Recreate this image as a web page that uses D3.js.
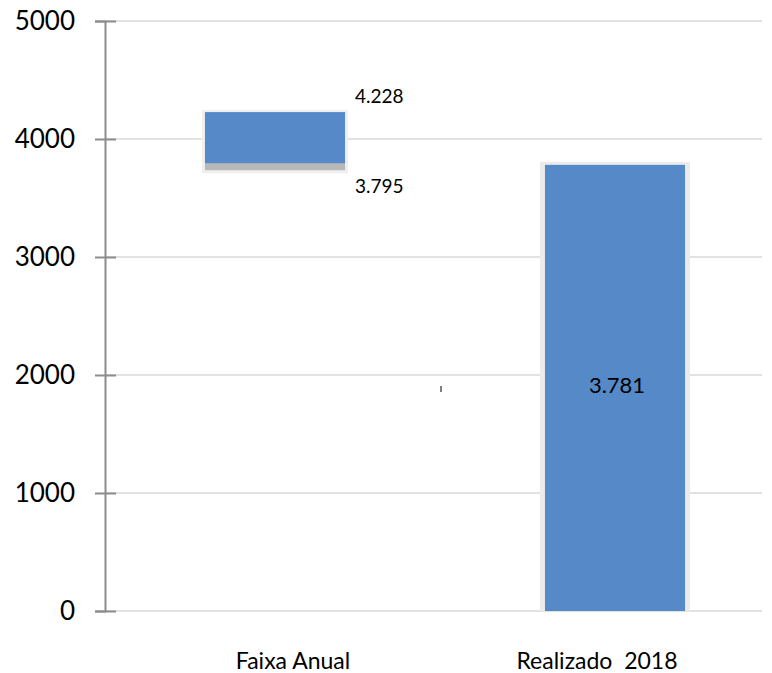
<!DOCTYPE html>
<html><head><meta charset="utf-8">
<script src="https://cdn.jsdelivr.net/npm/d3@7"></script>
<style>body{margin:0;background:#fff}svg{display:block}text{font-family:Lato,"Open Sans",sans-serif}</style>
</head><body>
<svg id="c" width="772" height="673"></svg>
<script>
const categories = ["Faixa Anual", "Realizado  2018"];
const rangeLow = [3795, null];
const rangeHigh = [4228, null];
const realized = [null, 3781];
const lowLabels = ["3.795", null];
const highLabels = ["4.228", null];
const realizedLabels = [null, "3.781"];
const yTicks = [0, 1000, 2000, 3000, 4000, 5000];

const svg = d3.select("#c");
const y = d3.scaleLinear().domain([0, 5000]).range([611, 21]);
const x = d3.scaleBand().domain(categories).range([105, 785]).paddingInner(0.588).paddingOuter(0.294);
const xLabel = d3.scalePoint().domain(categories).range([293, 597]);

// gridlines
svg.append("g").selectAll("line").data(yTicks).join("line")
  .attr("x1", 105).attr("x2", 762)
  .attr("y1", d => y(d)).attr("y2", d => y(d))
  .attr("stroke", "#d9d9d9").attr("stroke-width", 1.5);

// y axis
const ax = svg.append("g").attr("transform", "translate(105,0)")
  .call(d3.axisLeft(y).tickValues(yTicks).tickSize(10).tickPadding(20).tickFormat(d3.format("d")));
ax.select(".domain").attr("stroke", "#8c8c8c").attr("stroke-width", 2);
ax.selectAll(".tick line").attr("stroke", "#8c8c8c").attr("stroke-width", 2);
ax.selectAll(".tick").append("line").attr("x1", 0).attr("x2", 11).attr("stroke", "#8c8c8c").attr("stroke-width", 2);
ax.selectAll(".tick text").attr("font-size", 26).attr("fill", "#000").attr("font-family", "Lato, sans-serif");

const bw = x.bandwidth();
categories.forEach((c, i) => {
  if (rangeLow[i] != null) {
    const x0 = x(c);
    svg.append("rect").attr("x", x0 - 3).attr("y", y(rangeHigh[i]) - 2).attr("width", bw + 6)
      .attr("height", y(rangeLow[i]) - y(rangeHigh[i]) + 12).attr("fill", "#efefef");
    svg.append("rect").attr("x", x0).attr("y", y(rangeLow[i]) - 1).attr("width", bw)
      .attr("height", 8).attr("fill", "#b8b8b8");
    svg.append("rect").attr("x", x0).attr("y", y(rangeHigh[i])).attr("width", bw)
      .attr("height", y(rangeLow[i]) - y(rangeHigh[i])).attr("fill", "#5589c8");
    svg.append("text").attr("x", x0 + bw + 10).attr("y", y(rangeHigh[i]) - 9)
      .attr("font-size", 19).text(highLabels[i]);
    svg.append("text").attr("x", x0 + bw + 10).attr("y", y(rangeLow[i]) + 30)
      .attr("font-size", 19).text(lowLabels[i]);
  }
  if (realized[i] != null) {
    const x0 = x(c);
    svg.append("rect").attr("x", x0 - 5).attr("y", y(realized[i]) - 3).attr("width", bw + 10)
      .attr("height", y(0) - y(realized[i]) + 3).attr("fill", "#ebebeb");
    svg.append("rect").attr("x", x0).attr("y", y(realized[i])).attr("width", bw)
      .attr("height", y(0) - y(realized[i])).attr("fill", "#5589c8");
    svg.append("text").attr("x", x0 + bw / 2 + 2).attr("y", y(1850)).attr("text-anchor", "middle")
      .attr("font-size", 22).text(realizedLabels[i]);
  }
});

// small stray mark
svg.append("line").attr("x1", 441).attr("x2", 441).attr("y1", 386).attr("y2", 392)
  .attr("stroke", "#555").attr("stroke-width", 1.5);

// category labels
svg.append("g").selectAll("text").data(categories).join("text")
  .attr("x", d => xLabel(d)).attr("y", 669).attr("text-anchor", "middle")
  .attr("font-size", 23).style("white-space", "pre").text(d => d);
</script>
</body></html>
